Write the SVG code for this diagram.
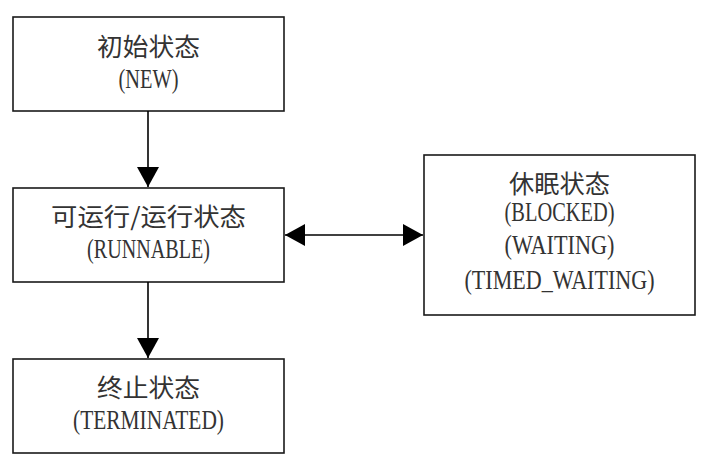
<svg xmlns="http://www.w3.org/2000/svg" width="704" height="463" viewBox="0 0 704 463">
<defs>
<style>
.box{fill:#fff;stroke:#1a1a1a;stroke-width:1.6}
.cjk{font-family:"Noto Sans CJK SC","Liberation Serif",sans-serif;font-size:25px;fill:#333;text-anchor:middle}
.lat{font-family:"Liberation Serif","DejaVu Serif",serif;font-size:27px;fill:#333;text-anchor:middle}
.edge{stroke:#000;stroke-width:1.6;fill:none}
</style>
<marker id="ah" markerUnits="userSpaceOnUse" markerWidth="22" markerHeight="22" viewBox="0 0 20 22" refX="20" refY="11" orient="auto-start-reverse">
<path d="M0,0 L20,11 L0,22 Z" fill="#000"/>
</marker>
</defs>
<rect width="704" height="463" fill="#fff"/>
<g id="node-new">
<rect class="box" x="13" y="17" width="271" height="94"/>
<text class="cjk" x="148.5" y="56" textLength="103" lengthAdjust="spacingAndGlyphs">初始状态</text>
<text class="lat" x="148.5" y="88" textLength="60" lengthAdjust="spacingAndGlyphs">(NEW)</text>
</g>
<g id="node-runnable">
<rect class="box" x="13" y="188" width="271" height="94"/>
<text class="cjk" x="148.5" y="226" textLength="195" lengthAdjust="spacingAndGlyphs">可运行/运行状态</text>
<text class="lat" x="148.5" y="258" textLength="123" lengthAdjust="spacingAndGlyphs">(RUNNABLE)</text>
</g>
<g id="node-terminated">
<rect class="box" x="13" y="359" width="271" height="94"/>
<text class="cjk" x="148.5" y="397" textLength="103" lengthAdjust="spacingAndGlyphs">终止状态</text>
<text class="lat" x="148.5" y="429" textLength="151" lengthAdjust="spacingAndGlyphs">(TERMINATED)</text>
</g>
<g id="node-blocked">
<rect class="box" x="424" y="155" width="271" height="160"/>
<text class="cjk" x="559.5" y="193" textLength="101" lengthAdjust="spacingAndGlyphs">休眠状态</text>
<text class="lat" x="559.5" y="221" textLength="110" lengthAdjust="spacingAndGlyphs">(BLOCKED)</text>
<text class="lat" x="559.5" y="254" textLength="110" lengthAdjust="spacingAndGlyphs">(WAITING)</text>
<text class="lat" x="559.5" y="289" textLength="190" lengthAdjust="spacingAndGlyphs">(TIMED_WAITING)</text>
</g>
<g id="connectors">
<line class="edge" x1="148" y1="111" x2="148" y2="187" marker-end="url(#ah)"/>
<line class="edge" x1="148" y1="282" x2="148" y2="358" marker-end="url(#ah)"/>
<line class="edge" x1="285" y1="235" x2="423" y2="235" marker-start="url(#ah)" marker-end="url(#ah)"/>
</g>
</svg>
